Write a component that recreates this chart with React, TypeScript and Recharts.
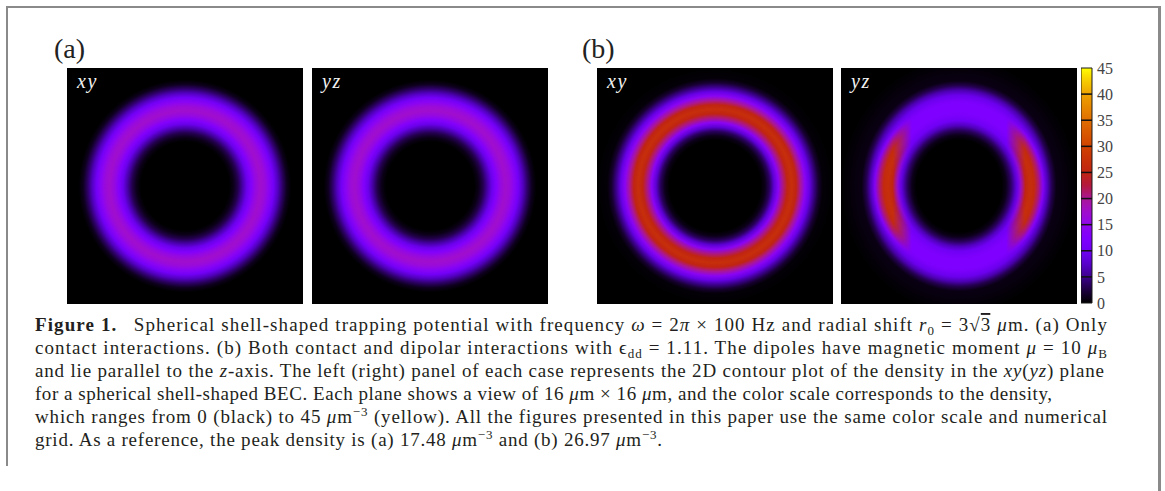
import React from 'react';
import {
  ScatterChart,
  Scatter,
  XAxis,
  YAxis,
  ReferenceArea,
  BarChart,
  Bar,
  ReferenceLine,
} from 'recharts';

const SERIF = '"Liberation Serif", "DejaVu Serif", serif';

// Each plane shows a 16 μm × 16 μm window centred on the trap (μm)
const viewExtent: [number, number] = [-8, 8];
const trapCentre = [{ x: 0, y: 0 }];

// Colour scale: density in μm^-3 and its colour
const densityTicks = [0, 5, 10, 15, 20, 25, 30, 35, 40, 45];
const paletteValues = [0, 2.5, 5, 7.5, 10, 12.5, 15, 17.5, 20, 22.5, 25, 27.5, 30, 35, 40, 43, 45];
const paletteColors = [
  '#000000', '#1e0040', '#3c008c', '#5800cc', '#7000f4', '#8000ff', '#9006ec', '#a00ecc',
  '#aa1696', '#b4183e', '#c02412', '#c83208', '#d04200', '#e06e00', '#eea200', '#f8d400', '#ffff00',
];

// (a) contact interactions only: radial density profile, r in μm, n in μm^-3
const contactRadius = [0, 3.0, 3.3, 3.6, 3.9, 4.2, 4.5, 4.8, 5.1, 5.4, 5.7, 6.0, 6.3, 6.6, 6.9, 7.2, 8];
const contactDensity = [0, 0, 1, 3, 6, 9.5, 13, 16, 17.48, 16.5, 14, 10.5, 7, 3.8, 1.2, 0, 0];

// (b) contact + dipolar, xy plane (equatorial plane)
const dipolarXYRadius = [0, 3.1, 3.4, 3.7, 4.0, 4.3, 4.6, 4.9, 5.2, 5.5, 5.8, 6.1, 6.4, 6.7, 7.0, 7.3, 8];
const dipolarXYDensity = [0, 0, 1, 3.5, 8, 14, 20.5, 25, 26.97, 25, 20, 14, 9, 5, 2, 0.3, 0];

// (b) yz plane: profile towards the poles (along z) and along the equator (along y)
const dipolarPoleRadius = [0, 2.9, 3.2, 3.5, 3.8, 4.1, 4.5, 4.9, 5.3, 5.7, 6.0, 6.3, 6.6, 8];
const dipolarPoleDensity = [0, 0, 1, 3.5, 7, 10, 12, 12.5, 12, 9.5, 6.5, 3, 0.8, 0];
const dipolarEquatorRadius = [0, 3.0, 3.3, 3.6, 3.9, 4.2, 4.5, 4.8, 5.1, 5.4, 5.7, 6.0, 6.3, 6.6, 6.9, 8];
const dipolarEquatorDensity = [0, 0, 1.5, 5, 11, 19, 25, 26.97, 26, 21, 14, 8, 3.5, 1, 0, 0];

const PANEL = 236;
const PANEL_TOP = 68;

function hexToRgb(h: string) {
  const v = parseInt(h.slice(1), 16);
  return [(v >> 16) & 255, (v >> 8) & 255, v & 255];
}

function densityColor(n: number) {
  const v = Math.max(paletteValues[0], Math.min(paletteValues[paletteValues.length - 1], n));
  let i = 0;
  while (i < paletteValues.length - 2 && v > paletteValues[i + 1]) i++;
  const t = (v - paletteValues[i]) / (paletteValues[i + 1] - paletteValues[i]);
  const a = hexToRgb(paletteColors[i]);
  const b = hexToRgb(paletteColors[i + 1]);
  const c = a.map((x, k) => Math.round(x + (b[k] - x) * t));
  return `rgb(${c[0]},${c[1]},${c[2]})`;
}

type Layer = {
  id: string;
  radius: number[];
  density: number[];
  stretchY?: number;
  overlay?: boolean;
};

function RingGradient({ layer }: { layer: Layer }) {
  const half = viewExtent[1];
  const transform = layer.stretchY
    ? `translate(0.5 0.5) scale(1 ${layer.stretchY}) translate(-0.5 -0.5)`
    : undefined;
  return (
    <radialGradient id={layer.id} cx="0.5" cy="0.5" r="0.5" gradientTransform={transform}>
      {layer.radius.map((r, i) => {
        const n = layer.density[i];
        // an overlay only paints where it is denser than the layer beneath
        const opacity = layer.overlay ? Math.max(0, Math.min(1, (n - 6) / 10)) : 1;
        return <stop key={i} offset={r / half} stopColor={densityColor(n)} stopOpacity={opacity} />;
      })}
    </radialGradient>
  );
}

function DensityPanel({ left, layers, maskId }: { left: number; layers: Layer[]; maskId: string }) {
  return (
    <div style={{ position: 'absolute', left, top: PANEL_TOP, width: PANEL, height: PANEL }}>
      <ScatterChart width={PANEL} height={PANEL} margin={{ top: 0, right: 0, bottom: 0, left: 0 }}>
        <defs>
          {layers.map((l) => (
            <RingGradient key={l.id} layer={l} />
          ))}
          <linearGradient id={`${maskId}-lin`} x1="0" y1="0" x2="1" y2="0">
            <stop offset={0} stopColor="#fff" />
            <stop offset={0.22} stopColor="#fff" />
            <stop offset={0.3} stopColor="#000" />
            <stop offset={0.7} stopColor="#000" />
            <stop offset={0.78} stopColor="#fff" />
            <stop offset={1} stopColor="#fff" />
          </linearGradient>
          <mask id={maskId} maskContentUnits="objectBoundingBox">
            <rect x={0} y={0} width={1} height={1} fill={`url(#${maskId}-lin)`} />
          </mask>
        </defs>
        <XAxis type="number" dataKey="x" domain={viewExtent} hide allowDataOverflow />
        <YAxis type="number" dataKey="y" domain={viewExtent} hide allowDataOverflow />
        {layers.map((l) => (
          <ReferenceArea
            key={l.id}
            x1={viewExtent[0]}
            x2={viewExtent[1]}
            y1={viewExtent[0]}
            y2={viewExtent[1]}
            ifOverflow="visible"
            shape={(p: any) => (
              <rect
                x={p.x}
                y={p.y}
                width={p.width}
                height={p.height}
                fill={`url(#${l.id})`}
                mask={l.overlay ? `url(#${maskId})` : undefined}
              />
            )}
          />
        ))}
        <Scatter data={trapCentre} isAnimationActive={false} shape={() => <g />} />
      </ScatterChart>
    </div>
  );
}

function ColourBar() {
  const top = densityTicks[densityTicks.length - 1];
  return (
    <div style={{ position: 'absolute', left: 1081, top: 60 }}>
      <BarChart
        width={51}
        height={252}
        data={[{ k: 'n', v: top }]}
        margin={{ top: 8, right: 0, bottom: 9, left: 0 }}
        barCategoryGap={0}
      >
        <defs>
          <linearGradient id="cbar" x1="0" y1="1" x2="0" y2="0">
            {paletteValues.map((v, i) => (
              <stop key={i} offset={v / top} stopColor={paletteColors[i]} />
            ))}
          </linearGradient>
        </defs>
        <XAxis dataKey="k" hide />
        <YAxis
          orientation="right"
          type="number"
          domain={[0, top]}
          ticks={densityTicks}
          interval={0}
          width={40}
          axisLine={false}
          tickLine={false}
          tickSize={3}
          tickMargin={2}
          tick={{ fontFamily: SERIF, fontSize: 16, fill: '#444' }}
        />
        <Bar dataKey="v" fill="url(#cbar)" stroke="#1a1a1a" strokeWidth={1} isAnimationActive={false} />
        {densityTicks.slice(1, -1).map((t) => (
          <ReferenceLine key={t} y={t} stroke="#111" strokeWidth={1.5} ifOverflow="visible" />
        ))}
      </BarChart>
    </div>
  );
}

type Seg = [string, string];
const captionLines: Seg[][] = [
  [
    ['b', 'Figure 1.'],
    ['n', '\u2002 Spherical shell-shaped trapping potential with frequency '],
    ['i', 'ω'],
    ['n', ' = 2'],
    ['i', 'π'],
    ['n', ' × 100 Hz and radial shift '],
    ['i', 'r'],
    ['sub', '0'],
    ['n', ' = 3√'],
    ['ol', '3'],
    ['n', ' '],
    ['i', 'μ'],
    ['n', 'm. (a) Only'],
  ],
  [
    ['n', 'contact interactions. (b) Both contact and dipolar interactions with ϵ'],
    ['sub', 'dd'],
    ['n', ' = 1.11. The dipoles have magnetic moment '],
    ['i', 'μ'],
    ['n', ' = 10 '],
    ['i', 'μ'],
    ['sub', 'B'],
  ],
  [
    ['n', 'and lie parallel to the '],
    ['i', 'z'],
    ['n', '-axis. The left (right) panel of each case represents the 2D contour plot of the density in the '],
    ['i', 'xy'],
    ['n', '('],
    ['i', 'yz'],
    ['n', ') plane'],
  ],
  [
    ['n', 'for a spherical shell-shaped BEC. Each plane shows a view of 16 '],
    ['i', 'μ'],
    ['n', 'm × 16 '],
    ['i', 'μ'],
    ['n', 'm, and the color scale corresponds to the density,'],
  ],
  [
    ['n', 'which ranges from 0 (black) to 45 '],
    ['i', 'μ'],
    ['n', 'm'],
    ['sup', '−3'],
    ['n', ' (yellow). All the figures presented in this paper use the same color scale and numerical'],
  ],
  [
    ['n', 'grid. As a reference, the peak density is (a) 17.48 '],
    ['i', 'μ'],
    ['n', 'm'],
    ['sup', '−3'],
    ['n', ' and (b) 26.97 '],
    ['i', 'μ'],
    ['n', 'm'],
    ['sup', '−3'],
    ['n', '.'],
  ],
];
const captionLeft = 35;
const captionRight = [1107, 1107, 1104, 1052, 1107, 662];
const captionFirstBaseline = 331;
const captionLeading = 23;

function CaptionLine({ segs, y, width }: { segs: Seg[]; y: number; width: number }) {
  let shift = 0;
  return (
    <text
      x={captionLeft}
      y={y}
      textLength={width}
      lengthAdjust="spacing"
      fontFamily={SERIF}
      fontSize={19}
      fill="#231f20"
    >
      {segs.map(([kind, txt], i) => {
        const target = kind === 'sub' ? 4 : kind === 'sup' ? -7 : 0;
        const dy = target - shift;
        shift = target;
        return (
          <tspan
            key={i}
            dy={dy || undefined}
            fontStyle={kind === 'i' ? 'italic' : undefined}
            fontWeight={kind === 'b' ? 'bold' : undefined}
            fontSize={kind === 'sub' || kind === 'sup' ? 13 : undefined}
            style={kind === 'ol' ? { textDecoration: 'overline' } : undefined}
          >
            {txt}
          </tspan>
        );
      })}
    </text>
  );
}

const panelLefts = [67, 312, 597, 841];
const planeLabels = ['xy', 'yz', 'xy', 'yz'];
const caseLabels = [
  { text: '(a)', x: 54 },
  { text: '(b)', x: 582 },
];

export default function App() {
  const contact: Layer = { id: 'ringContact', radius: contactRadius, density: contactDensity };
  const contactYZ: Layer = { id: 'ringContactYZ', radius: contactRadius, density: contactDensity };
  const dipXY: Layer = { id: 'ringDipXY', radius: dipolarXYRadius, density: dipolarXYDensity };
  const dipPole: Layer = {
    id: 'ringDipPole',
    radius: dipolarPoleRadius,
    density: dipolarPoleDensity,
    stretchY: 1.08,
  };
  const dipEquator: Layer = {
    id: 'ringDipEquator',
    radius: dipolarEquatorRadius,
    density: dipolarEquatorDensity,
    overlay: true,
  };

  return (
    <div
      style={{
        position: 'absolute',
        left: 0,
        top: 0,
        width: 1165,
        height: 491,
        background: '#fff',
        overflow: 'hidden',
      }}
    >
      <DensityPanel left={panelLefts[0]} layers={[contact]} maskId="m0" />
      <DensityPanel left={panelLefts[1]} layers={[contactYZ]} maskId="m1" />
      <DensityPanel left={panelLefts[2]} layers={[dipXY]} maskId="m2" />
      <DensityPanel left={panelLefts[3]} layers={[dipPole, dipEquator]} maskId="m3" />
      <ColourBar />

      <svg
        width={1165}
        height={491}
        style={{ position: 'absolute', left: 0, top: 0, pointerEvents: 'none' }}
      >
        {/* frame */}
        <line x1={7} y1={7} x2={1160} y2={7} stroke="#8a8a8a" strokeWidth={2} />
        <line x1={7} y1={6} x2={7} y2={466} stroke="#8a8a8a" strokeWidth={2} />
        <rect x={1158} y={6} width={3} height={485} fill="#8a8a8a" />

        {caseLabels.map((c) => (
          <text key={c.text} x={c.x} y={58} fontFamily={SERIF} fontSize={28} fill="#222">
            {c.text}
          </text>
        ))}
        {planeLabels.map((p, i) => (
          <text
            key={i}
            x={panelLefts[i] + 10}
            y={88}
            fontFamily={SERIF}
            fontStyle="italic"
            fontSize={20}
            letterSpacing={1.5}
            fill="#f2f2f2"
          >
            {p}
          </text>
        ))}
        {captionLines.map((segs, i) => (
          <CaptionLine
            key={i}
            segs={segs}
            y={captionFirstBaseline + i * captionLeading}
            width={captionRight[i] - captionLeft}
          />
        ))}
      </svg>
    </div>
  );
}
